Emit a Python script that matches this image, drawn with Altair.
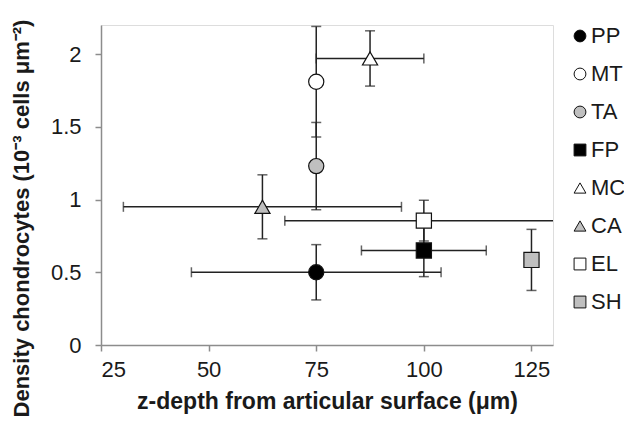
import altair as alt
import pandas as pd

series = ["PP", "MT", "TA", "FP", "MC", "CA", "EL", "SH"]
depth = [75, 75, 75, 100, 87.5, 62.5, 100, 125]
depth_err = [29, 0, 0, 14.5, 12.5, 32.3, 32.3, 0]
density = [0.50, 1.81, 1.23, 0.65, 1.97, 0.95, 0.855, 0.585]
density_err = [0.19, 0.38, 0.30, 0.18, 0.19, 0.22, 0.14, 0.21]
shapes = ["circle", "circle", "circle", "square", "triangle-up", "triangle-up", "square", "square"]
fills = ["#000000", "#ffffff", "#bfbfbf", "#000000", "#ffffff", "#bfbfbf", "#ffffff", "#bfbfbf"]
strokes = ["#111111"] * 8

x_ticks = [25, 50, 75, 100, 125]
y_ticks = [0, 0.5, 1, 1.5, 2]

df = pd.DataFrame({
    "series": series,
    "depth": depth,
    "depth_err": depth_err,
    "density": density,
    "density_err": density_err,
})
df["x_lo"] = df["depth"] - df["depth_err"]
df["x_hi"] = df["depth"] + df["depth_err"]
df["y_lo"] = df["density"] - df["density_err"]
df["y_hi"] = df["density"] + df["density_err"]

FONT = "Liberation Sans"
EB = "#222222"

xscale = alt.Scale(domain=[25, 130], nice=False, zero=False)
yscale = alt.Scale(domain=[0, 2.2], nice=False)

xax = alt.Axis(values=x_ticks, title="z-depth from articular surface (μm)", grid=False,
               domainColor="#8c8c8c", domainWidth=1.5, tickColor="#8c8c8c", tickWidth=1.5,
               tickSize=6, labelFontSize=22, labelFont=FONT, labelColor="#1a1a1a", labelPadding=8,
               titleFont=FONT, titleFontSize=23, titleFontWeight="bold", titleColor="#1a1a1a",
               titlePadding=10)
yax = alt.Axis(values=y_ticks, format="~g", title="Density chondrocytes (10⁻³ cells μm⁻²)", grid=False,
               domainColor="#8c8c8c", domainWidth=1.5, tickColor="#8c8c8c", tickWidth=1.5,
               tickSize=6, labelFontSize=22, labelFont=FONT, labelColor="#1a1a1a", labelPadding=14,
               titleFont=FONT, titleFontSize=22, titleFontWeight="bold", titleColor="#1a1a1a",
               titleX=-80, titleY=193, titleAlign="center", titleBaseline="middle", titleAngle=270)


def make_legend():
    return alt.Legend(title=None, orient="none", legendX=468, legendY=0,
                      labelFont=FONT, labelFontSize=22, labelColor="#1a1a1a",
                      symbolSize=140, symbolStrokeWidth=1, rowPadding=16, labelOffset=0,
                      symbolOpacity=1)


base = alt.Chart(df)

xerr_df = base.transform_filter("datum.depth_err > 0")

hbar = xerr_df.mark_rule(color=EB, strokeWidth=1.5, clip=True).encode(
    x=alt.X("x_lo:Q", scale=xscale, axis=xax), x2="x_hi:Q",
    y=alt.Y("density:Q", scale=yscale, axis=yax))
hcap_lo = xerr_df.mark_tick(color=EB, thickness=1.5, size=10, orient="vertical", clip=True).encode(
    x=alt.X("x_lo:Q", scale=xscale), y=alt.Y("density:Q", scale=yscale))
hcap_hi = xerr_df.mark_tick(color=EB, thickness=1.5, size=10, orient="vertical", clip=True).encode(
    x=alt.X("x_hi:Q", scale=xscale), y=alt.Y("density:Q", scale=yscale))

vbar = base.mark_rule(color=EB, strokeWidth=1.5).encode(
    x=alt.X("depth:Q", scale=xscale), y=alt.Y("y_lo:Q", scale=yscale), y2="y_hi:Q")
vcap_lo = base.mark_tick(color=EB, thickness=1.5, size=10, orient="horizontal").encode(
    x=alt.X("depth:Q", scale=xscale), y=alt.Y("y_lo:Q", scale=yscale))
vcap_hi = base.mark_tick(color=EB, thickness=1.5, size=10, orient="horizontal").encode(
    x=alt.X("depth:Q", scale=xscale), y=alt.Y("y_hi:Q", scale=yscale))

points = base.mark_point(filled=True, strokeWidth=1.2, size=230, opacity=1).encode(
    x=alt.X("depth:Q", scale=xscale),
    y=alt.Y("density:Q", scale=yscale),
    shape=alt.Shape("series:N", scale=alt.Scale(domain=series, range=shapes), legend=make_legend()),
    fill=alt.Fill("series:N", scale=alt.Scale(domain=series, range=fills), legend=make_legend()),
    stroke=alt.Stroke("series:N", scale=alt.Scale(domain=series, range=strokes), legend=make_legend()),
)

chart = alt.layer(hbar, hcap_lo, hcap_hi, vbar, vcap_lo, vcap_hi, points).properties(
    width=452, height=320,
    autosize=alt.AutoSizeParams(type="none"),
    padding={"left": 93, "top": 17, "right": 71, "bottom": 81},
).configure_view(stroke=None).configure(background="white")

chart.save("out.html", embed_options={"renderer": "svg", "actions": False})
